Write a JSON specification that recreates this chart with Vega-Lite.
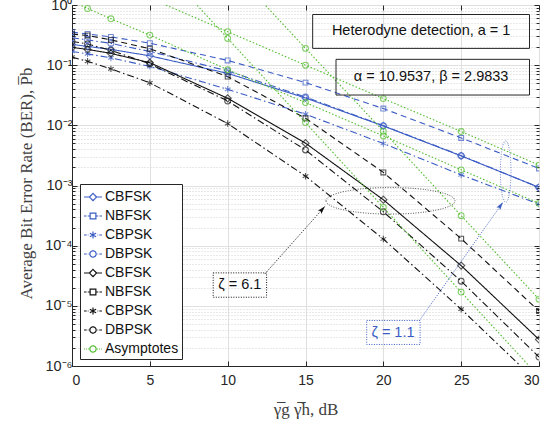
{
  "$schema": "https://vega.github.io/schema/vega-lite/v6.json",
  "autosize": {"type": "none"},
  "padding": {"left": 72, "top": 5, "right": 19, "bottom": 57},
  "width": 467,
  "height": 361,
  "background": "white",
  "config": {"view": {"stroke": "#262626", "strokeWidth": 1}},
  "datasets": {
    "curves": [
      {"x":0,"y":0.221,"s":"CBFSK_1","g":"CBFSK_1"},{"x":1,"y":0.205,"s":"CBFSK_1","g":"CBFSK_1"},{"x":2.5,"y":0.183,"s":"CBFSK_1","g":"CBFSK_1"},{"x":5,"y":0.143,"s":"CBFSK_1","g":"CBFSK_1"},{"x":10,"y":0.0731,"s":"CBFSK_1","g":"CBFSK_1"},{"x":15,"y":0.0285,"s":"CBFSK_1","g":"CBFSK_1"},{"x":20,"y":0.00977,"s":"CBFSK_1","g":"CBFSK_1"},{"x":25,"y":0.00311,"s":"CBFSK_1","g":"CBFSK_1"},{"x":30,"y":0.00093,"s":"CBFSK_1","g":"CBFSK_1"},
      {"x":0,"y":0.354,"s":"NBFSK_1","g":"NBFSK_1"},{"x":1,"y":0.330,"s":"NBFSK_1","g":"NBFSK_1"},{"x":2.5,"y":0.295,"s":"NBFSK_1","g":"NBFSK_1"},{"x":5,"y":0.232,"s":"NBFSK_1","g":"NBFSK_1"},{"x":10,"y":0.120,"s":"NBFSK_1","g":"NBFSK_1"},{"x":15,"y":0.0513,"s":"NBFSK_1","g":"NBFSK_1"},{"x":20,"y":0.0190,"s":"NBFSK_1","g":"NBFSK_1"},{"x":25,"y":0.00618,"s":"NBFSK_1","g":"NBFSK_1"},{"x":30,"y":0.00192,"s":"NBFSK_1","g":"NBFSK_1"},
      {"x":0,"y":0.169,"s":"CBPSK_1","g":"CBPSK_1"},{"x":1,"y":0.154,"s":"CBPSK_1","g":"CBPSK_1"},{"x":2.5,"y":0.132,"s":"CBPSK_1","g":"CBPSK_1"},{"x":5,"y":0.0955,"s":"CBPSK_1","g":"CBPSK_1"},{"x":10,"y":0.0397,"s":"CBPSK_1","g":"CBPSK_1"},{"x":15,"y":0.0153,"s":"CBPSK_1","g":"CBPSK_1"},{"x":20,"y":0.00499,"s":"CBPSK_1","g":"CBPSK_1"},{"x":25,"y":0.0015,"s":"CBPSK_1","g":"CBPSK_1"},{"x":30,"y":0.00049,"s":"CBPSK_1","g":"CBPSK_1"},
      {"x":0,"y":0.286,"s":"DBPSK_1","g":"DBPSK_1"},{"x":1,"y":0.263,"s":"DBPSK_1","g":"DBPSK_1"},{"x":2.5,"y":0.230,"s":"DBPSK_1","g":"DBPSK_1"},{"x":5,"y":0.169,"s":"DBPSK_1","g":"DBPSK_1"},{"x":10,"y":0.0804,"s":"DBPSK_1","g":"DBPSK_1"},{"x":15,"y":0.0295,"s":"DBPSK_1","g":"DBPSK_1"},{"x":20,"y":0.0099,"s":"DBPSK_1","g":"DBPSK_1"},{"x":25,"y":0.00313,"s":"DBPSK_1","g":"DBPSK_1"},{"x":30,"y":0.00093,"s":"DBPSK_1","g":"DBPSK_1"},
      {"x":0,"y":0.197,"s":"CBFSK_6","g":"CBFSK_6"},{"x":1,"y":0.183,"s":"CBFSK_6","g":"CBFSK_6"},{"x":2.5,"y":0.157,"s":"CBFSK_6","g":"CBFSK_6"},{"x":5,"y":0.110,"s":"CBFSK_6","g":"CBFSK_6"},{"x":10,"y":0.0281,"s":"CBFSK_6","g":"CBFSK_6"},{"x":15,"y":0.00505,"s":"CBFSK_6","g":"CBFSK_6"},{"x":20,"y":0.00058,"s":"CBFSK_6","g":"CBFSK_6"},{"x":25,"y":0.0000466,"s":"CBFSK_6","g":"CBFSK_6"},{"x":30,"y":0.00000276,"s":"CBFSK_6","g":"CBFSK_6"},
      {"x":0,"y":0.328,"s":"NBFSK_6","g":"NBFSK_6"},{"x":1,"y":0.312,"s":"NBFSK_6","g":"NBFSK_6"},{"x":2.5,"y":0.263,"s":"NBFSK_6","g":"NBFSK_6"},{"x":5,"y":0.188,"s":"NBFSK_6","g":"NBFSK_6"},{"x":10,"y":0.0645,"s":"NBFSK_6","g":"NBFSK_6"},{"x":15,"y":0.0131,"s":"NBFSK_6","g":"NBFSK_6"},{"x":20,"y":0.00165,"s":"NBFSK_6","g":"NBFSK_6"},{"x":25,"y":0.000131,"s":"NBFSK_6","g":"NBFSK_6"},{"x":30,"y":0.0000082,"s":"NBFSK_6","g":"NBFSK_6"},
      {"x":0,"y":0.136,"s":"CBPSK_6","g":"CBPSK_6"},{"x":1,"y":0.116,"s":"CBPSK_6","g":"CBPSK_6"},{"x":2.5,"y":0.0868,"s":"CBPSK_6","g":"CBPSK_6"},{"x":5,"y":0.0509,"s":"CBPSK_6","g":"CBPSK_6"},{"x":10,"y":0.0107,"s":"CBPSK_6","g":"CBPSK_6"},{"x":15,"y":0.00143,"s":"CBPSK_6","g":"CBPSK_6"},{"x":20,"y":0.000129,"s":"CBPSK_6","g":"CBPSK_6"},{"x":25,"y":0.0000088,"s":"CBPSK_6","g":"CBPSK_6"},{"x":30,"y":0.00000051,"s":"CBPSK_6","g":"CBPSK_6"},
      {"x":0,"y":0.248,"s":"DBPSK_6","g":"DBPSK_6"},{"x":1,"y":0.225,"s":"DBPSK_6","g":"DBPSK_6"},{"x":2.5,"y":0.176,"s":"DBPSK_6","g":"DBPSK_6"},{"x":5,"y":0.105,"s":"DBPSK_6","g":"DBPSK_6"},{"x":10,"y":0.0254,"s":"DBPSK_6","g":"DBPSK_6"},{"x":15,"y":0.0039,"s":"DBPSK_6","g":"DBPSK_6"},{"x":20,"y":0.000366,"s":"DBPSK_6","g":"DBPSK_6"},{"x":25,"y":0.0000257,"s":"DBPSK_6","g":"DBPSK_6"},{"x":30,"y":0.00000141,"s":"DBPSK_6","g":"DBPSK_6"},
      {"x":0,"y":1.156,"s":"Asymptotes","g":"A1"},{"x":1,"y":0.875,"s":"Asymptotes","g":"A1"},{"x":2.5,"y":0.590,"s":"Asymptotes","g":"A1"},{"x":5,"y":0.316,"s":"Asymptotes","g":"A1"},{"x":10,"y":0.0842,"s":"Asymptotes","g":"A1"},{"x":15,"y":0.0239,"s":"Asymptotes","g":"A1"},{"x":20,"y":0.00667,"s":"Asymptotes","g":"A1"},{"x":25,"y":0.00182,"s":"Asymptotes","g":"A1"},{"x":30,"y":0.000505,"s":"Asymptotes","g":"A1"},
      {"x":5,"y":1.30,"s":"Asymptotes","g":"A2"},{"x":10,"y":0.360,"s":"Asymptotes","g":"A2"},{"x":15,"y":0.100,"s":"Asymptotes","g":"A2"},{"x":20,"y":0.0278,"s":"Asymptotes","g":"A2"},{"x":25,"y":0.0079,"s":"Asymptotes","g":"A2"},{"x":30,"y":0.00218,"s":"Asymptotes","g":"A2"},
      {"x":10,"y":4.67,"s":"Asymptotes","g":"A3"},{"x":15,"y":0.190,"s":"Asymptotes","g":"A3"},{"x":20,"y":0.00798,"s":"Asymptotes","g":"A3"},{"x":25,"y":0.000315,"s":"Asymptotes","g":"A3"},{"x":30,"y":0.0000129,"s":"Asymptotes","g":"A3"},
      {"x":5,"y":7.1,"s":"Asymptotes","g":"A4"},{"x":10,"y":0.278,"s":"Asymptotes","g":"A4"},{"x":15,"y":0.0111,"s":"Asymptotes","g":"A4"},{"x":20,"y":0.000433,"s":"Asymptotes","g":"A4"},{"x":25,"y":0.0000169,"s":"Asymptotes","g":"A4"},{"x":30,"y":0.000000665,"s":"Asymptotes","g":"A4"}
    ],
    "boxes": [
      {"x":15.46,"x2":29.39,"y":0.695,"y2":0.190},
      {"x":16.96,"x2":29.39,"y":0.125,"y2":0.0319}
    ],
    "zbox6": [{"x":9.07,"x2":12.5,"y":0.0000353,"y2":0.0000139}],
    "zbox1": [{"x":18.93,"x2":22.36,"y":0.0000057,"y2":0.00000228}],
    "ell6": [{"x":20.46,"y":0.000557}],
    "ell1": [{"x":27.86,"y":0.0017}],
    "arr6": [{"x":12.39,"y":0.000034,"x2":16.25,"y2":0.00045}],
    "arr1": [{"x":22.32,"y":0.0000057,"x2":27.68,"y2":0.000525}],
    "txt": [
      {"x":22.43,"y":0.364,"t":"Heterodyne detection, a = 1"},
      {"x":23.07,"y":0.064,"t":"α = 10.9537, β = 2.9833"},
      {"x":10.78,"y":0.0000223,"t":"ζ = 6.1"}
    ],
    "txt1": [{"x":20.62,"y":0.00000357,"t":"ζ = 1.1"}]
  },
  "resolve": {"axis": {"x": "independent", "y": "independent"}},
  "layer": [
    {
      "data": {"name": "curves"},
      "transform": [{"calculate": "datum.s", "as": "m"}],
      "mark": {"type": "line", "clip": true, "strokeWidth": 1.1},
      "encoding": {
        "x": {"field": "x", "type": "quantitative", "scale": {"domain": [0, 30], "nice": false, "zero": false},
          "axis": {"values": [0,5,10,15,20,25,30], "labelFont": "Liberation Sans", "labelFontSize": 14, "labelColor": "#262626",
            "tickSize": -5, "tickColor": "#262626", "labelPadding": 12, "domainColor": "#262626", "gridColor": "#e0e0e0",
            "title": "γ̅g γ̅h, dB", "titleFont": "Liberation Serif", "titleFontSize": 17, "titleFontWeight": "normal", "titleColor": "#404040",
            "titleBaseline": "alphabetic", "titleY": 48}},
        "y": {"field": "y", "type": "quantitative", "scale": {"type": "log", "domain": [0.000001, 1], "nice": false},
          "axis": {
            "values": [0.000001,0.000002,0.000003,0.000004,0.000005,0.000006,0.000007,0.000008,0.000009,0.00001,0.00002,0.00003,0.00004,0.00005,0.00006,0.00007,0.00008,0.00009,0.0001,0.0002,0.0003,0.0004,0.0005,0.0006,0.0007,0.0008,0.0009,0.001,0.002,0.003,0.004,0.005,0.006,0.007,0.008,0.009,0.01,0.02,0.03,0.04,0.05,0.06,0.07,0.08,0.09,0.1,0.2,0.3,0.4,0.5,0.6,0.7,0.8,0.9,1],
            "labelExpr": "abs(log(datum.value)/LN10 - round(log(datum.value)/LN10)) < 0.01 ? ['10⁰','10⁻¹','10⁻²','10⁻³','10⁻⁴','10⁻⁵','10⁻⁶'][round(-log(datum.value)/LN10)] : ''",
            "labelFont": "Liberation Sans", "labelFontSize": 14.5, "labelColor": "#262626", "labelOverlap": false, "labelFlush": false, "labelPadding": 5, "labelDy": 2,
            "tickSize": {"condition": {"test": "abs(log(datum.value)/LN10 - round(log(datum.value)/LN10)) < 0.01", "value": -5}, "value": -3},
            "tickColor": "#262626", "domainColor": "#262626",
            "gridColor": {"condition": {"test": "abs(log(datum.value)/LN10 - round(log(datum.value)/LN10)) < 0.01", "value": "#e0e0e0"}, "value": "#d2d2d2"},
            "gridDash": {"condition": {"test": "abs(log(datum.value)/LN10 - round(log(datum.value)/LN10)) < 0.01", "value": []}, "value": [1, 2]},
            "title": "Average Bit Error Rate (BER), P̅b", "titleFont": "Liberation Serif", "titleFontSize": 17, "titleFontWeight": "normal", "titleColor": "#404040",
            "titleX": -37, "titleY": 178, "titleBaseline": "bottom"}},
        "color": {"field": "s", "type": "nominal",
          "scale": {"domain": ["CBFSK_1","NBFSK_1","CBPSK_1","DBPSK_1","CBFSK_6","NBFSK_6","CBPSK_6","DBPSK_6","Asymptotes"],
            "range": ["#3b5cc4","#3b5cc4","#3b5cc4","#3b5cc4","#111111","#111111","#111111","#111111","#50bd2c"]},
          "legend": {"title": null, "orient": "none", "legendX": 8, "legendY": 179,
            "labelExpr": "split(datum.label, '_')[0]",
            "labelFont": "Liberation Sans", "labelFontSize": 14, "labelColor": "#111111",
            "symbolSize": 324, "symbolStrokeWidth": 1.2, "rowPadding": 2, "padding": 3, "labelOffset": 2,
            "strokeColor": "#262626", "fillColor": "white",
            "encode": {"symbols": {"update": {
              "shape": {"signal": "indexof(datum.value,'CBFSK')==0 ? 'M-1,0H-0.4M0.4,0H1M0,-0.4L0.4,0L0,0.4L-0.4,0Z' : indexof(datum.value,'NBFSK')==0 ? 'M-1,0H-0.72M-0.58,0H-0.33M0.33,0H0.58M0.72,0H1M-0.32,-0.32H0.32V0.32H-0.32Z' : indexof(datum.value,'CBPSK')==0 ? 'M-1,0H-0.7M-0.58,0H-0.5M0.5,0H0.58M0.7,0H1M0,-0.4V0.4M-0.35,-0.2L0.35,0.2M-0.35,0.2L0.35,-0.2' : indexof(datum.value,'DBPSK')==0 ? 'M-1,0H-0.7M-0.58,0H-0.5M0.5,0H0.58M0.7,0H1M0.35,0A0.35,0.35,0,1,1,-0.35,0A0.35,0.35,0,1,1,0.35,0' : 'M-1,0H-0.9M-0.78,0H-0.68M-0.56,0H-0.46M0.46,0H0.56M0.68,0H0.78M0.9,0H1M0.35,0A0.35,0.35,0,1,1,-0.35,0A0.35,0.35,0,1,1,0.35,0'"},
              "fill": {"value": "transparent"},
              "strokeDash": {"value": [1, 0]}}}}}},
        "strokeDash": {"field": "m", "type": "nominal", "legend": null,
          "scale": {"domain": ["Asymptotes","CBFSK_1","NBFSK_1","CBPSK_1","DBPSK_1","CBFSK_6","NBFSK_6","CBPSK_6","DBPSK_6"],
            "range": [[1.5,2],[1,0],[6,4],[7,3,1.5,3],[7,3,1.5,3],[1,0],[6,4],[7,3,1.5,3],[7,3,1.5,3]]}},
        "detail": {"field": "g", "type": "nominal"}
      }
    },
    {
      "data": {"name": "curves"},
      "transform": [{"calculate": "datum.s", "as": "m"}],
      "mark": {"type": "point", "filled": false, "clip": true, "size": 42, "strokeWidth": 1.1},
      "encoding": {
        "x": {"field": "x", "type": "quantitative", "axis": null},
        "y": {"field": "y", "type": "quantitative", "axis": null},
        "color": {"field": "s", "type": "nominal", "legend": null},
        "shape": {"field": "m", "type": "nominal", "legend": null,
          "scale": {"domain": ["Asymptotes","CBFSK_1","NBFSK_1","CBPSK_1","DBPSK_1","CBFSK_6","NBFSK_6","CBPSK_6","DBPSK_6"],
            "range": ["M0.9,0A0.9,0.9,0,1,1,-0.9,0A0.9,0.9,0,1,1,0.9,0",
              "M0,-1.1L1.1,0L0,1.1L-1.1,0Z","M-0.75,-0.75H0.75V0.75H-0.75Z","M0,-1V1M-0.87,-0.5L0.87,0.5M-0.87,0.5L0.87,-0.5","M0.9,0A0.9,0.9,0,1,1,-0.9,0A0.9,0.9,0,1,1,0.9,0",
              "M0,-1.1L1.1,0L0,1.1L-1.1,0Z","M-0.75,-0.75H0.75V0.75H-0.75Z","M0,-1V1M-0.87,-0.5L0.87,0.5M-0.87,0.5L0.87,-0.5","M0.9,0A0.9,0.9,0,1,1,-0.9,0A0.9,0.9,0,1,1,0.9,0"]}}
      }
    },
    {
      "data": {"name": "boxes"},
      "mark": {"type": "rect", "fill": null, "fillOpacity": 0, "stroke": "#262626", "strokeWidth": 1},
      "encoding": {
        "x": {"field": "x", "type": "quantitative", "axis": null}, "x2": {"field": "x2"},
        "y": {"field": "y", "type": "quantitative", "axis": null}, "y2": {"field": "y2"}
      }
    },
    {
      "data": {"name": "zbox6"},
      "mark": {"type": "rect", "fill": "white", "fillOpacity": 0, "stroke": "#111111", "strokeWidth": 1, "strokeDash": [1, 1.5]},
      "encoding": {
        "x": {"field": "x", "type": "quantitative", "axis": null}, "x2": {"field": "x2"},
        "y": {"field": "y", "type": "quantitative", "axis": null}, "y2": {"field": "y2"}
      }
    },
    {
      "data": {"name": "zbox1"},
      "mark": {"type": "rect", "fill": "white", "fillOpacity": 0, "stroke": "#3b5cc4", "strokeWidth": 1, "strokeDash": [1, 1.5]},
      "encoding": {
        "x": {"field": "x", "type": "quantitative", "axis": null}, "x2": {"field": "x2"},
        "y": {"field": "y", "type": "quantitative", "axis": null}, "y2": {"field": "y2"}
      }
    },
    {
      "data": {"name": "ell6"},
      "mark": {"type": "point", "filled": false, "stroke": "#111111", "strokeWidth": 1, "strokeDash": [1, 1.5], "size": 16641,
        "shape": "M-1,0A1,0.206,0,1,1,1,0A1,0.206,0,1,1,-1,0"},
      "encoding": {
        "x": {"field": "x", "type": "quantitative", "axis": null},
        "y": {"field": "y", "type": "quantitative", "axis": null}
      }
    },
    {
      "data": {"name": "ell1"},
      "mark": {"type": "point", "filled": false, "stroke": "#3b5cc4", "strokeWidth": 1, "strokeDash": [1, 1.5], "size": 3795,
        "shape": "M0,-1A0.172,1,0,1,1,0,1A0.172,1,0,1,1,0,-1"},
      "encoding": {
        "x": {"field": "x", "type": "quantitative", "axis": null},
        "y": {"field": "y", "type": "quantitative", "axis": null}
      }
    },
    {
      "data": {"name": "arr6"},
      "mark": {"type": "rule", "stroke": "#111111", "strokeWidth": 1, "strokeDash": [1, 1.5]},
      "encoding": {
        "x": {"field": "x", "type": "quantitative", "axis": null}, "x2": {"field": "x2"},
        "y": {"field": "y", "type": "quantitative", "axis": null}, "y2": {"field": "y2"}
      }
    },
    {
      "data": {"name": "arr6"},
      "mark": {"type": "point", "filled": true, "fill": "#111111", "stroke": null, "opacity": 1, "size": 178, "angle": 41.6,
        "shape": "M0,0L0.35,1.2L0,0.95L-0.35,1.2Z"},
      "encoding": {
        "x": {"field": "x2", "type": "quantitative", "axis": null},
        "y": {"field": "y2", "type": "quantitative", "axis": null}
      }
    },
    {
      "data": {"name": "arr1"},
      "mark": {"type": "rule", "stroke": "#3b5cc4", "strokeWidth": 1, "strokeDash": [1, 1.5]},
      "encoding": {
        "x": {"field": "x", "type": "quantitative", "axis": null}, "x2": {"field": "x2"},
        "y": {"field": "y", "type": "quantitative", "axis": null}, "y2": {"field": "y2"}
      }
    },
    {
      "data": {"name": "arr1"},
      "mark": {"type": "point", "filled": true, "fill": "#3b5cc4", "stroke": null, "opacity": 1, "size": 178, "angle": 35.2,
        "shape": "M0,0L0.35,1.2L0,0.95L-0.35,1.2Z"},
      "encoding": {
        "x": {"field": "x2", "type": "quantitative", "axis": null},
        "y": {"field": "y2", "type": "quantitative", "axis": null}
      }
    },
    {
      "data": {"name": "txt"},
      "mark": {"type": "text", "font": "Liberation Sans", "fontSize": 14.5, "color": "#111111", "align": "center", "baseline": "middle"},
      "encoding": {
        "x": {"field": "x", "type": "quantitative", "axis": null},
        "y": {"field": "y", "type": "quantitative", "axis": null},
        "text": {"field": "t"}
      }
    },
    {
      "data": {"name": "txt1"},
      "mark": {"type": "text", "font": "Liberation Sans", "fontSize": 14.5, "color": "#3b5cc4", "align": "center", "baseline": "middle"},
      "encoding": {
        "x": {"field": "x", "type": "quantitative", "axis": null},
        "y": {"field": "y", "type": "quantitative", "axis": null},
        "text": {"field": "t"}
      }
    },
    {
      "data": {"name": "curves"},
      "mark": {"type": "point", "opacity": 0, "clip": true},
      "encoding": {
        "x": {"field": "x", "type": "quantitative",
          "axis": {"orient": "top", "values": [0,5,10,15,20,25,30], "labels": false, "grid": false, "domain": false, "title": null, "tickSize": -5, "tickColor": "#262626"}},
        "y": {"field": "y", "type": "quantitative",
          "axis": {"orient": "right", "labels": false, "grid": false, "domain": false, "title": null, "tickColor": "#262626",
            "values": [0.000001,0.000002,0.000003,0.000004,0.000005,0.000006,0.000007,0.000008,0.000009,0.00001,0.00002,0.00003,0.00004,0.00005,0.00006,0.00007,0.00008,0.00009,0.0001,0.0002,0.0003,0.0004,0.0005,0.0006,0.0007,0.0008,0.0009,0.001,0.002,0.003,0.004,0.005,0.006,0.007,0.008,0.009,0.01,0.02,0.03,0.04,0.05,0.06,0.07,0.08,0.09,0.1,0.2,0.3,0.4,0.5,0.6,0.7,0.8,0.9,1],
            "tickSize": {"condition": {"test": "abs(log(datum.value)/LN10 - round(log(datum.value)/LN10)) < 0.01", "value": -5}, "value": -3}}}
      }
    }
  ]
}
